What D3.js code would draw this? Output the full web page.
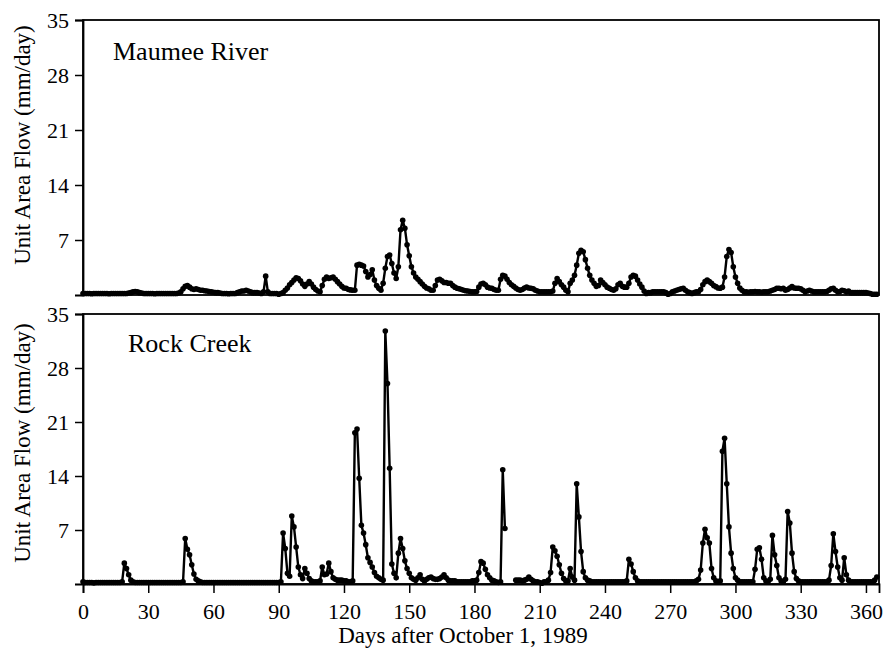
<!DOCTYPE html>
<html>
<head>
<meta charset="utf-8">
<script src="https://cdn.jsdelivr.net/npm/d3@7"></script>
<style>
  html, body { margin: 0; padding: 0; background: #fff; }
  svg { display: block; }
  svg text { font-family: "Liberation Serif", "Times New Roman", Times, serif !important; fill: #000; }
</style>
</head>
<body>
<svg id="chart" width="885" height="653" font-family="Liberation Serif, Times New Roman, serif"></svg>
<script>
// Daily unit-area flow (mm/day), day 0 = October 1, 1989
const maumee = [
  0.2,0.2,0.2,0.2,0.15,0.2,0.2,0.2,0.2,0.2,
  0.2,0.2,0.15,0.2,0.2,0.2,0.2,0.2,0.2,0.2,
  0.2,0.25,0.3,0.4,0.45,0.4,0.3,0.25,0.2,0.2,
  0.2,0.2,0.2,0.15,0.2,0.2,0.2,0.2,0.2,0.2,
  0.2,0.2,0.2,0.2,0.25,0.4,0.8,1.1,1.2,1.0,
  0.8,0.7,0.8,0.7,0.6,0.6,0.55,0.5,0.45,0.4,
  0.35,0.3,0.3,0.25,0.2,0.2,0.2,0.15,0.2,0.2,
  0.2,0.3,0.4,0.5,0.5,0.6,0.5,0.4,0.3,0.3,
  0.3,0.25,0.2,0.4,2.4,0.4,0.2,0.2,0.2,0.2,
  0.1,0.2,0.3,0.6,0.9,1.3,1.6,1.9,2.2,2.1,
  1.8,1.4,1.1,1.4,1.7,1.4,1.0,0.7,0.5,0.4,
  1.2,2.0,2.3,2.1,2.2,2.3,2.0,1.7,1.4,1.1,
  0.9,0.85,0.7,0.65,0.6,0.6,3.8,3.9,3.8,3.7,
  3.0,2.3,2.6,3.2,1.9,1.2,0.85,0.6,1.5,3.4,
  4.9,5.1,4.0,2.8,2.1,3.6,8.3,9.5,8.5,6.4,
  5.0,3.6,2.8,2.3,2.0,1.7,1.4,1.1,0.9,0.8,
  0.6,0.6,1.2,1.9,2.0,1.8,1.6,1.6,1.5,1.5,
  1.2,1.0,0.85,0.8,0.7,0.6,0.55,0.5,0.45,0.4,
  0.4,0.45,1.0,1.4,1.5,1.3,1.0,0.9,0.85,0.7,
  0.6,0.6,2.0,2.5,2.4,2.0,1.6,1.3,1.1,0.9,
  0.7,0.6,0.7,0.9,1.0,0.9,0.85,0.8,0.6,0.5,
  0.4,0.4,0.4,0.4,0.4,0.4,0.5,1.5,2.1,1.7,
  1.3,1.0,0.6,0.4,1.5,1.9,2.5,3.8,5.3,5.7,
  5.5,4.5,3.4,2.5,1.9,1.5,1.1,1.2,1.9,1.6,
  1.3,1.0,0.85,0.7,0.6,0.8,1.3,1.5,1.1,1.0,
  1.0,1.5,2.3,2.5,2.4,1.9,1.4,1.0,0.5,0.2,
  0.3,0.3,0.4,0.4,0.4,0.4,0.4,0.4,0.3,0.1,
  0.2,0.4,0.5,0.6,0.7,0.8,0.85,0.6,0.4,0.3,
  0.2,0.3,0.4,0.4,0.7,1.3,1.7,1.9,1.7,1.5,
  1.2,1.06,0.9,0.85,1.0,2.3,4.9,5.8,5.4,3.6,
  2.3,1.5,0.9,0.6,0.4,0.4,0.35,0.4,0.4,0.45,
  0.4,0.4,0.35,0.4,0.4,0.4,0.5,0.6,0.7,0.85,
  0.85,0.8,0.85,0.6,0.7,0.9,1.06,0.9,0.85,0.85,
  0.8,0.6,0.4,0.5,0.6,0.5,0.4,0.4,0.4,0.4,
  0.4,0.4,0.45,0.6,0.8,0.85,0.6,0.4,0.45,0.6,
  0.55,0.4,0.5,0.3,0.3,0.3,0.3,0.3,0.3,0.3,
  0.3,0.25,0.2,0.1,0.1,0.1
];

// null = no record for that day
const rockCreek = [
  0.3,0.2,0.2,0.2,0.2,0.15,0.2,0.2,0.2,0.2,
  0.2,0.2,0.2,0.2,0.2,0.2,0.2,0.2,0.3,2.7,
  2.0,1.2,0.5,0.3,0.2,0.2,0.2,0.2,0.2,0.2,
  0.2,0.2,0.2,0.2,0.2,0.2,0.2,0.2,0.2,0.2,
  0.2,0.2,0.2,0.2,0.2,0.2,0.3,5.9,4.5,3.8,
  2.5,1.3,0.6,0.4,0.3,0.2,0.2,0.2,0.2,0.2,
  0.2,0.2,0.2,0.2,0.2,0.2,0.2,0.2,0.2,0.2,
  0.2,0.2,0.2,0.2,0.2,0.2,0.2,0.2,0.2,0.2,
  0.2,0.2,0.2,0.2,0.2,0.2,0.2,0.2,0.2,0.2,
  0.2,0.3,6.6,4.6,1.4,1.0,8.8,7.4,4.8,2.2,
  1.2,0.7,2.0,1.4,0.7,0.4,0.3,0.3,0.3,0.4,
  2.2,1.2,1.3,2.7,1.6,0.8,0.6,0.5,0.5,0.5,
  0.4,0.4,0.3,0.3,0.4,19.6,20.1,13.7,7.6,6.6,
  5.1,3.4,2.8,2.2,1.5,1.0,0.8,0.6,0.5,32.8,
  26.0,15.0,2.6,1.4,0.8,4.0,5.9,4.6,3.0,2.0,
  1.4,0.8,0.6,0.5,0.8,1.2,0.6,0.4,0.6,0.8,
  0.9,0.7,0.6,0.6,0.7,0.9,1.2,0.8,0.5,0.4,
  0.4,0.4,0.3,0.3,0.3,0.3,0.3,0.3,0.3,0.4,
  0.4,0.5,1.5,2.9,2.7,1.9,1.2,0.8,0.5,0.4,
  0.3,0.2,0.3,14.8,7.2,null,null,null,null,0.5,
  0.5,0.5,0.4,0.5,0.6,0.9,0.6,0.4,0.3,0.3,
  0.2,0.1,0.3,0.3,0.5,1.5,4.8,4.3,3.6,2.5,
  1.4,0.7,0.4,0.4,2.0,0.9,0.5,13.0,8.7,4.2,
  1.6,0.8,0.5,0.4,0.3,0.3,0.3,0.3,0.3,0.3,
  0.3,0.3,0.3,0.3,0.3,0.3,0.3,0.3,0.3,0.3,
  0.4,3.2,2.6,1.6,0.8,0.4,0.3,0.3,0.3,0.3,
  0.3,0.3,0.3,0.3,0.3,0.3,0.3,0.3,0.3,0.3,
  0.3,0.3,0.3,0.3,0.3,0.3,0.3,0.3,0.3,0.3,
  0.3,0.3,0.4,0.6,1.8,5.3,7.1,6.0,5.3,2.0,
  0.8,0.4,0.3,0.4,17.2,18.9,13.0,7.4,4.0,2.0,
  0.8,0.5,0.3,0.3,0.3,0.3,0.3,0.3,0.3,1.9,
  4.5,4.7,3.2,0.8,0.4,0.3,0.6,6.3,3.8,2.4,
  0.8,0.4,0.3,0.6,9.4,7.9,4.0,1.6,0.7,0.4,
  0.3,0.3,0.3,0.3,0.3,0.3,0.3,0.3,0.3,0.3,
  0.3,0.3,0.3,0.5,2.4,6.5,4.2,2.2,0.8,0.5,
  3.4,1.2,0.5,0.3,0.3,0.3,0.3,0.3,0.3,0.3,
  0.3,0.3,0.3,0.3,0.5,0.9
];

const xTicks = [0, 30, 60, 90, 120, 150, 180, 210, 240, 270, 300, 330, 360];
const yTicks = [7, 14, 21, 28, 35];
const panelNames = ["Maumee River", "Rock Creek"];
const yTitle = "Unit Area Flow (mm/day)";
const xTitle = "Days after October 1, 1989";

const serif = "Liberation Serif, Times New Roman, serif";
const svg = d3.select("#chart");
const left = 83, right = 879;

const x = d3.scaleLinear().domain([0, 366]).range([left, right]);

const panels = [
  { name: panelNames[0], values: maumee, top: 20, bottom: 295, labelX: 113, labelY: 60, titleY: 145 },
  { name: panelNames[1], values: rockCreek, top: 314, bottom: 584, labelX: 128, labelY: 352, titleY: 443 }
];

panels.forEach((p, i) => {
  const y = d3.scaleLinear().domain([0, 35]).range([p.bottom, p.top]);
  const g = svg.append("g");

  // frame
  g.append("rect")
    .attr("x", left).attr("y", p.top)
    .attr("width", right - left).attr("height", p.bottom - p.top)
    .attr("fill", "none").attr("stroke", "#000").attr("stroke-width", 1.8);

  // left axis
  const ay = g.append("g")
    .attr("transform", `translate(${left},0)`)
    .call(d3.axisLeft(y).tickValues(yTicks).tickSize(8).tickPadding(6).tickFormat(d3.format("d")))
    .attr("font-family", serif).attr("font-size", 22);
  ay.select(".domain").attr("stroke-width", 1.8);
  ay.selectAll(".tick line").attr("stroke-width", 1.5);

  // bottom axis on lower panel only
  if (i === 1) {
    const ax = g.append("g")
      .attr("transform", `translate(0,${p.bottom})`)
      .call(d3.axisBottom(x).tickValues(xTicks).tickSize(9).tickPadding(10).tickFormat(d3.format("d")))
      .attr("font-family", serif).attr("font-size", 22);
    ax.select(".domain").attr("stroke-width", 1.8);
    ax.selectAll(".tick line").attr("stroke-width", 1.5);
  }

  const pts = p.values.map((v, d) => ({ day: d, v: v }));

  const line = d3.line()
    .defined(d => d.v !== null)
    .x(d => x(d.day))
    .y(d => y(d.v));

  g.append("path")
    .datum(pts)
    .attr("d", line)
    .attr("fill", "none")
    .attr("stroke", "#000")
    .attr("stroke-width", 2.4)
    .attr("stroke-linejoin", "round");

  g.selectAll("circle.pt")
    .data(pts.filter(d => d.v !== null))
    .join("circle")
    .attr("class", "pt")
    .attr("cx", d => x(d.day))
    .attr("cy", d => y(d.v))
    .attr("r", 2.8)
    .attr("fill", "#000");

  // panel name
  g.append("text")
    .attr("x", p.labelX).attr("y", p.labelY)
    .attr("font-family", serif).attr("font-size", 26)
    .text(p.name);

  // y-axis title
  g.append("text")
    .attr("transform", `translate(30,${p.titleY}) rotate(-90)`)
    .attr("text-anchor", "middle")
    .attr("font-family", serif).attr("font-size", 23)
    .text(yTitle);
});

svg.append("text")
  .attr("x", 463).attr("y", 643)
  .attr("text-anchor", "middle")
  .attr("font-family", serif).attr("font-size", 23)
  .text(xTitle);
</script>
</body>
</html>
